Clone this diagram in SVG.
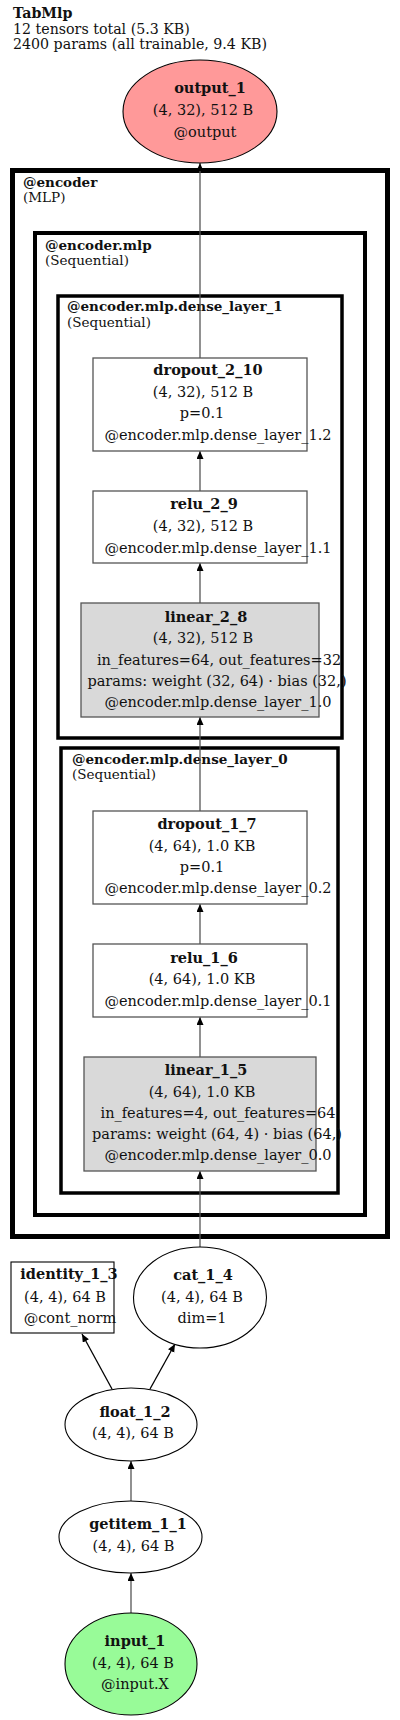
<svg xmlns="http://www.w3.org/2000/svg" width="400" height="1720" viewBox="0 0 400 1720">
<style>
text{font-family:"DejaVu Serif","Liberation Serif",serif;font-size:13.5px;fill:#111}
.c{text-anchor:middle;font-size:14.5px}
.b{font-weight:bold}
.cl{fill:none;stroke:#000}
.box{fill:#fff;stroke:#555;stroke-width:1.3}
.lin{fill:#d9d9d9;stroke:#555;stroke-width:1.3}
.ell{fill:#fff;stroke:#000;stroke-width:1.1}
.e{stroke:#555;stroke-width:1.3;fill:none;marker-end:url(#ah)}
.ek{stroke:#000;stroke-width:1.3;fill:none;marker-end:url(#ak)}
</style>
<defs>
<marker id="ah" markerUnits="userSpaceOnUse" markerWidth="8" markerHeight="8" refX="8" refY="3.5" orient="auto"><path d="M0,0 L8,3.5 L0,7 z" fill="#000"/></marker>
<marker id="ak" markerUnits="userSpaceOnUse" markerWidth="8" markerHeight="8" refX="8" refY="3.5" orient="auto"><path d="M0,0 L8,3.5 L0,7 z" fill="#000"/></marker>
</defs>
<rect width="400" height="1720" fill="#fff"/>
<g id="title">
<text x="13" y="18" class="b" style="font-size:14.2px">TabMlp</text>
<text x="13" y="34" style="font-size:14.2px">12 tensors total (5.3 KB)</text>
<text x="13" y="49" style="font-size:14.2px">2400 params (all trainable, 9.4 KB)</text>
</g>
<g id="clusters">
<g id="cluster_encoder">
<rect class="cl" x="12.5" y="170.5" width="375" height="1066" stroke-width="5"/>
<text x="23" y="187" class="b">@encoder</text>
<text x="23" y="202">(MLP)</text>
</g>
<g id="cluster_encoder_mlp">
<rect class="cl" x="35" y="233" width="330" height="982" stroke-width="4"/>
<text x="45" y="250" class="b">@encoder.mlp</text>
<text x="45" y="265">(Sequential)</text>
</g>
<g id="cluster_dense_layer_1">
<rect class="cl" x="58" y="296" width="284" height="442" stroke-width="3.5"/>
<text x="67" y="311" class="b">@encoder.mlp.dense_layer_1</text>
<text x="67" y="327">(Sequential)</text>
</g>
<g id="cluster_dense_layer_0">
<rect class="cl" x="61" y="748" width="277" height="445" stroke-width="3.5"/>
<text x="72" y="764" class="b">@encoder.mlp.dense_layer_0</text>
<text x="72" y="779">(Sequential)</text>
</g>
</g>
<g id="edges">
<line class="e" x1="200" y1="358" x2="200" y2="163"/>
<line class="e" x1="200" y1="491" x2="200" y2="451"/>
<line class="e" x1="200" y1="603" x2="200" y2="563"/>
<line class="e" x1="200" y1="811" x2="200" y2="717"/>
<line class="e" x1="200" y1="944" x2="200" y2="904"/>
<line class="e" x1="200" y1="1057" x2="200" y2="1017"/>
<line class="e" x1="200" y1="1247" x2="200" y2="1171"/>
<line class="ek" x1="112" y1="1389" x2="82" y2="1334"/>
<line class="ek" x1="150" y1="1389" x2="175" y2="1344"/>
<line class="e" x1="131" y1="1501" x2="131" y2="1461"/>
<line class="e" x1="131" y1="1613" x2="131" y2="1573"/>
</g>
<g id="output_1">
<ellipse cx="200" cy="111.5" rx="77" ry="51.5" fill="#ff9999" stroke="#000" stroke-width="1.1"/>
<text x="210" y="93" class="c b">output_1</text>
<text x="203" y="115" class="c">(4, 32), 512 B</text>
<text x="205" y="137" class="c">@output</text>
</g>
<g id="dropout_2_10">
<rect class="box" x="93" y="358" width="214" height="93"/>
<text x="208" y="375" class="c b">dropout_2_10</text>
<text x="203" y="397" class="c">(4, 32), 512 B</text>
<text x="202" y="418" class="c">p=0.1</text>
<text x="218" y="440" class="c">@encoder.mlp.dense_layer_1.2</text>
</g>
<g id="relu_2_9">
<rect class="box" x="93" y="491" width="214" height="72"/>
<text x="204" y="509" class="c b">relu_2_9</text>
<text x="203" y="531" class="c">(4, 32), 512 B</text>
<text x="218" y="553" class="c">@encoder.mlp.dense_layer_1.1</text>
</g>
<g id="linear_2_8">
<rect class="lin" x="81" y="603" width="238" height="114"/>
<text x="206" y="622" class="c b">linear_2_8</text>
<text x="203" y="643" class="c">(4, 32), 512 B</text>
<text x="219" y="665" class="c">in_features=64, out_features=32</text>
<text x="217" y="686" class="c">params: weight (32, 64) · bias (32,)</text>
<text x="218" y="707" class="c">@encoder.mlp.dense_layer_1.0</text>
</g>
<g id="dropout_1_7">
<rect class="box" x="93" y="811" width="214" height="93"/>
<text x="207" y="829" class="c b">dropout_1_7</text>
<text x="202" y="851" class="c">(4, 64), 1.0 KB</text>
<text x="202" y="872" class="c">p=0.1</text>
<text x="218" y="893" class="c">@encoder.mlp.dense_layer_0.2</text>
</g>
<g id="relu_1_6">
<rect class="box" x="93" y="944" width="214" height="73"/>
<text x="204" y="963" class="c b">relu_1_6</text>
<text x="202" y="984" class="c">(4, 64), 1.0 KB</text>
<text x="218" y="1006" class="c">@encoder.mlp.dense_layer_0.1</text>
</g>
<g id="linear_1_5">
<rect class="lin" x="84" y="1057" width="232" height="114"/>
<text x="206" y="1075" class="c b">linear_1_5</text>
<text x="202" y="1097" class="c">(4, 64), 1.0 KB</text>
<text x="218" y="1118" class="c">in_features=4, out_features=64</text>
<text x="217" y="1139" class="c">params: weight (64, 4) · bias (64,)</text>
<text x="218" y="1160" class="c">@encoder.mlp.dense_layer_0.0</text>
</g>
<g id="cat_1_4">
<ellipse class="ell" cx="200" cy="1297.5" rx="66.5" ry="50.5"/>
<text x="203" y="1280" class="c b">cat_1_4</text>
<text x="202" y="1302" class="c">(4, 4), 64 B</text>
<text x="202" y="1323" class="c">dim=1</text>
</g>
<g id="identity_1_3">
<rect x="11" y="1262" width="103" height="71" fill="#fff" stroke="#000" stroke-width="1.1"/>
<text x="69" y="1279" class="c b">identity_1_3</text>
<text x="65" y="1302" class="c">(4, 4), 64 B</text>
<text x="70" y="1323" class="c">@cont_norm</text>
</g>
<g id="float_1_2">
<ellipse class="ell" cx="131" cy="1424.5" rx="66" ry="36.5"/>
<text x="135" y="1417" class="c b">float_1_2</text>
<text x="133" y="1438" class="c">(4, 4), 64 B</text>
</g>
<g id="getitem_1_1">
<ellipse class="ell" cx="130.5" cy="1537" rx="71.5" ry="36"/>
<text x="138" y="1529" class="c b">getitem_1_1</text>
<text x="133.5" y="1551" class="c">(4, 4), 64 B</text>
</g>
<g id="input_1">
<ellipse cx="131" cy="1664" rx="66" ry="51" fill="#98fb98" stroke="#000" stroke-width="1.1"/>
<text x="135" y="1646" class="c b">input_1</text>
<text x="133" y="1668" class="c">(4, 4), 64 B</text>
<text x="135" y="1689" class="c">@input.X</text>
</g>
</svg>
